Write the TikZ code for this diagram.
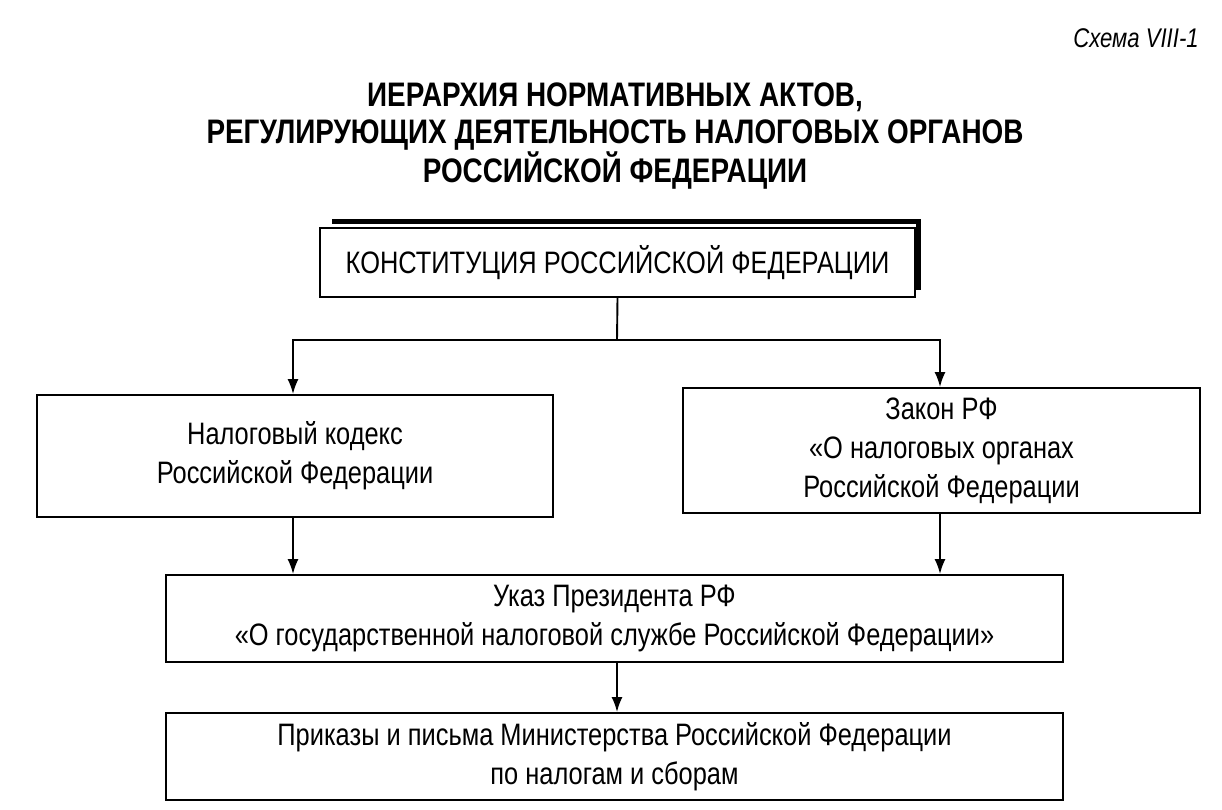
\documentclass[tikz,border=0pt]{standalone}
\usepackage{fontspec}
\setmainfont{Liberation Sans}[FakeStretch=0.82]
\usetikzlibrary{arrows.meta}
\usetikzlibrary{positioning}
\tikzset{
  x = 1pt, y = -1pt,
  > = {Latex[length=15pt, width=11pt]},
  act/.style = {rectangle,
                draw,
                line width = 1.8pt,
                align = center,
                font = \fontsize{31}{39}\selectfont,
                inner sep = 0pt},
  link/.style = {line width = 1.9pt}
}
\begin{document}
\begin{tikzpicture}

\useasboundingbox (0,0) rectangle (1222,810);

\node[font = \fontsize{27}{30}\selectfont\itshape](scheme) at (1136,38){Схема VIII-1};

\node[font = \fontsize{34}{37}\bfseries\selectfont, align = center](title) at (615,136)
  {ИЕРАРХИЯ НОРМАТИВНЫХ АКТОВ,\\РЕГУЛИРУЮЩИХ ДЕЯТЕЛЬНОСТЬ НАЛОГОВЫХ ОРГАНОВ\\РОССИЙСКОЙ ФЕДЕРАЦИИ};

\node[act, minimum width = 595pt, minimum height = 69pt](const) at (617.5,262.5){КОНСТИТУЦИЯ РОССИЙСКОЙ ФЕДЕРАЦИИ};
\draw[line width = 5pt] (332,222) -- (918,222) -- (918,290);

\node[act, minimum width = 516pt, minimum height = 122pt](code) at (295,456){Налоговый кодекс\\Российской Федерации};

\node[act, minimum width = 517pt, minimum height = 125pt](law) at (941.5,450.5){Закон РФ\\«О налоговых органах\\Российской Федерации};

\node[act, minimum width = 897pt, minimum height = 87pt](decree) at (614.5,618.5){Указ Президента РФ\\«О государственной налоговой службе Российской Федерации»};

\node[act, minimum width = 897pt, minimum height = 87pt](orders) at (614.5,756.5){Приказы и письма Министерства Российской Федерации\\по налогам и сборам};

\coordinate (fork) at (617,340);
\draw[link] (const.south) -- (fork);
\draw[link, ->] (fork) -| (code.north -| 293,0);
\draw[link, ->] (fork) -| (law.north -| 940,0);
\draw[link, ->] (code.south -| 293,0) -- (decree.north -| 293,0);
\draw[link, ->] (law.south -| 940,0) -- (decree.north -| 940,0);
\draw[link, ->] (decree.south -| 617,0) -- (orders.north -| 617,0);

\end{tikzpicture}
\end{document}
